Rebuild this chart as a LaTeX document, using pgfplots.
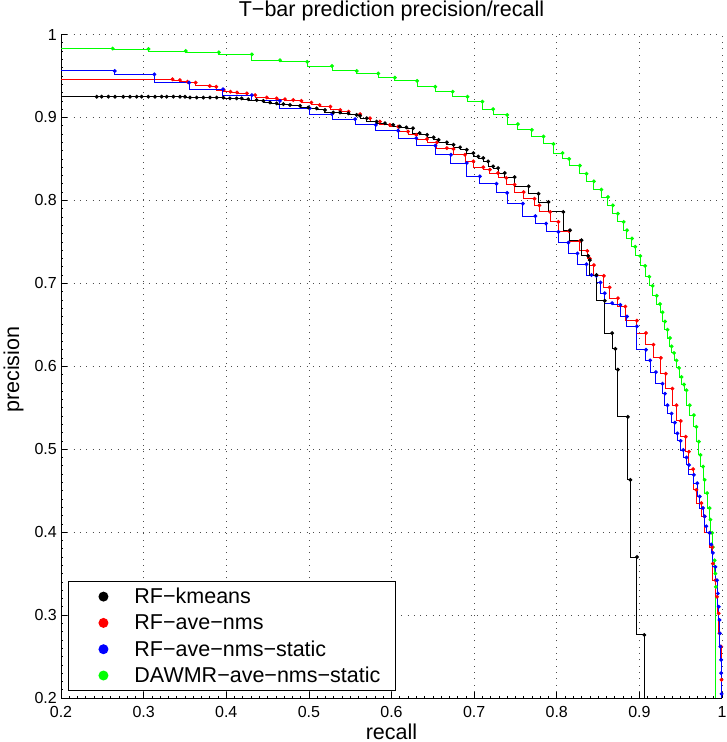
\documentclass[border=0pt]{standalone}
\usepackage{fontspec}
\setmainfont{Liberation Sans}
\usepackage{pgfplots}
\pgfplotsset{compat=1.18}

\newcommand{\lblfont}{\fontsize{21.5bp}{25bp}\selectfont}
\newcommand{\tckfont}{\fontsize{16bp}{19bp}\selectfont}

\begin{document}
\begin{tikzpicture}
	\useasboundingbox (-61bp,-44bp) rectangle (666bp,698bp);
	\begin{axis}[
			scale only axis,
			width=661bp, height=663.5bp,
			xmin=0.2, xmax=1, ymin=0.2, ymax=1,
			axis x line*=bottom, axis y line*=left,
			tick align=inside,
			xtick={0.2,0.3,0.4,0.5,0.6,0.7,0.8,0.9,1},
			ytick={0.2,0.3,0.4,0.5,0.6,0.7,0.8,0.9,1},
			minor tick num=9,
			major tick length=6bp, minor tick length=2bp,
			every tick/.style={black, line width=0.6bp},
			axis line style={black, line width=0.8bp},
			grid=major,
			major grid style={black!70, line width=0.7bp, dash pattern=on 0.8bp off 5.5bp},
			/pgf/number format/assume math mode=true,
			tick label style={font=\tckfont},
			xticklabel style={inner ysep=8bp},
			yticklabel style={inner xsep=4bp},
			title={T−bar prediction precision/recall},
			title style={font=\lblfont, at={(axis description cs:0.5,1.0178)}, anchor=base},
			xlabel={recall},
			xlabel style={font=\lblfont, at={(axis description cs:0.5,-0.0618)}, anchor=base},
			ylabel={precision},
			ylabel style={font=\lblfont, at={(axis description cs:-0.0635,0.495)}, anchor=base},
			legend cell align=left,
			legend style={
					at={(axis description cs:0.0106,0.0106)}, anchor=south west,
					draw=black, line width=0.9bp, fill=white,
					inner xsep=15bp, inner ysep=6bp, row sep=8.3bp,
					font=\lblfont,
					nodes={inner sep=0pt, text height=16bp, text depth=2bp}
				},
			every axis plot/.append style={const plot mark right, line width=1bp, mark=*, mark size=1.4bp},
		]

		% legend dots
		\addlegendimage{legend image code/.code={\path[draw=none] (0bp,0bp) -- (51bp,0bp); \fill[black, draw=none] (20bp,0bp) circle (5bp);}}
		\addlegendentry{RF−kmeans}
		\addlegendimage{legend image code/.code={\path[draw=none] (0bp,0bp) -- (51bp,0bp); \fill[red, draw=none] (20bp,0bp) circle (5bp);}}
		\addlegendentry{RF−ave−nms}
		\addlegendimage{legend image code/.code={\path[draw=none] (0bp,0bp) -- (51bp,0bp); \fill[blue, draw=none] (20bp,0bp) circle (5bp);}}
		\addlegendentry{RF−ave−nms−static}
		\addlegendimage{legend image code/.code={\path[draw=none] (0bp,0bp) -- (51bp,0bp); \fill[green, draw=none] (20bp,0bp) circle (5bp);}}
		\addlegendentry{DAWMR−ave−nms−static}

		% DAWMR-ave-nms-static
		\addplot[green, forget plot] coordinates {
				(0,0.983) (0.2626,0.983) (0.306,0.9825) (0.351,0.980) (0.391,0.9785) (0.431,0.976)
				(0.465,0.969) (0.498,0.967) (0.528,0.962) (0.558,0.956) (0.584,0.953) (0.604,0.948)
				(0.631,0.944) (0.653,0.937) (0.674,0.931) (0.692,0.925) (0.710,0.919) (0.723,0.910)
				(0.740,0.903) (0.753,0.892) (0.770,0.885) (0.784,0.877) (0.796,0.868) (0.807,0.857)
				(0.815,0.850) (0.828,0.842) (0.836,0.832) (0.845,0.823) (0.854,0.813) (0.862,0.804)
				(0.868,0.794) (0.874,0.784) (0.881,0.774) (0.885,0.764) (0.891,0.754) (0.895,0.744)
				(0.901,0.733) (0.907,0.721) (0.912,0.708) (0.916,0.697) (0.921,0.685) (0.925,0.675)
				(0.928,0.665) (0.931,0.654) (0.934,0.644) (0.937,0.634) (0.939,0.624) (0.942,0.616)
				(0.945,0.607) (0.948,0.598) (0.951,0.587) (0.954,0.578) (0.957,0.571) (0.961,0.553)
				(0.966,0.541) (0.969,0.527) (0.972,0.509) (0.974,0.493) (0.977,0.479) (0.979,0.463)
				(0.982,0.447) (0.985,0.429) (0.986,0.415) (0.988,0.399) (0.989,0.382) (0.991,0.366)
				(0.992,0.350) (0.9925,0.334) (0.9925,0.1)
			};

		% RF-ave-nms
		\addplot[red, forget plot] coordinates {
				(0,0.946) (0.335,0.946) (0.344,0.945) (0.353,0.943) (0.363,0.942) (0.380,0.938)
				(0.388,0.937) (0.397,0.933) (0.405,0.931) (0.413,0.930) (0.425,0.929) (0.435,0.927)
				(0.449,0.924) (0.461,0.923) (0.471,0.922) (0.481,0.921) (0.491,0.920) (0.503,0.918)
				(0.513,0.915) (0.526,0.913) (0.538,0.909) (0.548,0.907) (0.562,0.904) (0.574,0.899)
				(0.586,0.895) (0.598,0.891) (0.608,0.889) (0.620,0.883) (0.630,0.879) (0.643,0.874)
				(0.655,0.870) (0.667,0.863) (0.675,0.862) (0.689,0.855) (0.699,0.847) (0.711,0.840)
				(0.719,0.837) (0.729,0.833) (0.739,0.827) (0.749,0.819) (0.760,0.810) (0.773,0.802)
				(0.779,0.794) (0.792,0.786) (0.802,0.774) (0.815,0.763) (0.828,0.751) (0.837,0.739)
				(0.840,0.730) (0.845,0.722) (0.857,0.709) (0.864,0.695) (0.874,0.682) (0.883,0.672)
				(0.897,0.655) (0.908,0.640) (0.917,0.626) (0.926,0.610) (0.932,0.591) (0.940,0.573)
				(0.945,0.553) (0.950,0.534) (0.956,0.515) (0.960,0.497) (0.965,0.476) (0.969,0.451)
				(0.975,0.435) (0.979,0.419) (0.985,0.399) (0.988,0.382) (0.989,0.362) (0.992,0.342)
				(0.994,0.322) (0.996,0.302) (0.997,0.278) (0.999,0.262) (0.9995,0.222) (0.9995,0.1)
			};

		% RF-ave-nms-static
		\addplot[blue, forget plot] coordinates {
				(0,0.956) (0.265,0.956) (0.313,0.952) (0.355,0.942) (0.396,0.934) (0.431,0.927)
				(0.465,0.920) (0.501,0.911) (0.528,0.904) (0.556,0.898) (0.581,0.891) (0.608,0.884)
				(0.630,0.875) (0.653,0.866) (0.672,0.855) (0.691,0.845) (0.707,0.829) (0.727,0.820)
				(0.740,0.809) (0.759,0.796) (0.774,0.781) (0.787,0.772) (0.802,0.762) (0.814,0.749)
				(0.825,0.736) (0.836,0.723) (0.842,0.710) (0.848,0.709) (0.853,0.701) (0.858,0.688)
				(0.867,0.676) (0.877,0.674) (0.885,0.660) (0.897,0.648) (0.908,0.620) (0.913,0.607)
				(0.920,0.593) (0.928,0.579) (0.931,0.567) (0.934,0.553) (0.939,0.543) (0.943,0.532)
				(0.946,0.519) (0.950,0.510) (0.953,0.499) (0.957,0.490) (0.960,0.481) (0.966,0.469)
				(0.970,0.459) (0.973,0.443) (0.977,0.429) (0.979,0.419) (0.981,0.407) (0.985,0.399)
				(0.987,0.385) (0.989,0.375) (0.992,0.358) (0.994,0.342) (0.995,0.326) (0.996,0.310)
				(0.997,0.294) (0.9975,0.278) (0.998,0.262) (0.999,0.246) (0.999,0.230) (0.9995,0.205)
				(0.9995,0.1)
			};

		% RF-kmeans
		\addplot[black, forget plot] coordinates {
				(0,0.926) (0.2432,0.925) (0.2492,0.925) (0.2573,0.925) (0.2654,0.925) (0.2754,0.925)
				(0.2835,0.925) (0.2916,0.925) (0.2976,0.925) (0.3057,0.925) (0.3138,0.925) (0.3218,0.925)
				(0.3279,0.925) (0.3360,0.925) (0.3440,0.925) (0.3501,0.925) (0.3561,0.924) (0.3642,0.924)
				(0.3723,0.924) (0.3803,0.924) (0.3884,0.924) (0.3965,0.924) (0.4045,0.923) (0.4126,0.923)
				(0.4187,0.923) (0.4267,0.922) (0.4368,0.921) (0.4449,0.920) (0.4530,0.918) (0.4610,0.917)
				(0.4691,0.916) (0.4772,0.915) (0.4893,0.914) (0.4993,0.912) (0.5094,0.911) (0.5195,0.909)
				(0.5296,0.906) (0.5377,0.906) (0.5478,0.905) (0.5578,0.903) (0.562,0.902) (0.570,0.899)
				(0.582,0.895) (0.592,0.893) (0.602,0.891) (0.610,0.889) (0.618,0.888) (0.626,0.887)
				(0.634,0.881) (0.643,0.879) (0.651,0.876) (0.657,0.873) (0.667,0.870) (0.675,0.867)
				(0.683,0.864) (0.691,0.861) (0.699,0.857) (0.705,0.853) (0.711,0.851) (0.717,0.847)
				(0.723,0.841) (0.729,0.839) (0.737,0.833) (0.749,0.828) (0.766,0.817) (0.778,0.808)
				(0.790,0.798) (0.808,0.786) (0.816,0.764) (0.830,0.752) (0.838,0.733) (0.840,0.728)
				(0.848,0.710) (0.858,0.679) (0.867,0.640) (0.871,0.621) (0.874,0.596) (0.886,0.539)
				(0.889,0.463) (0.897,0.370) (0.906,0.276) (0.906,0.1)
			};

	\end{axis}
\end{tikzpicture}
\end{document}
